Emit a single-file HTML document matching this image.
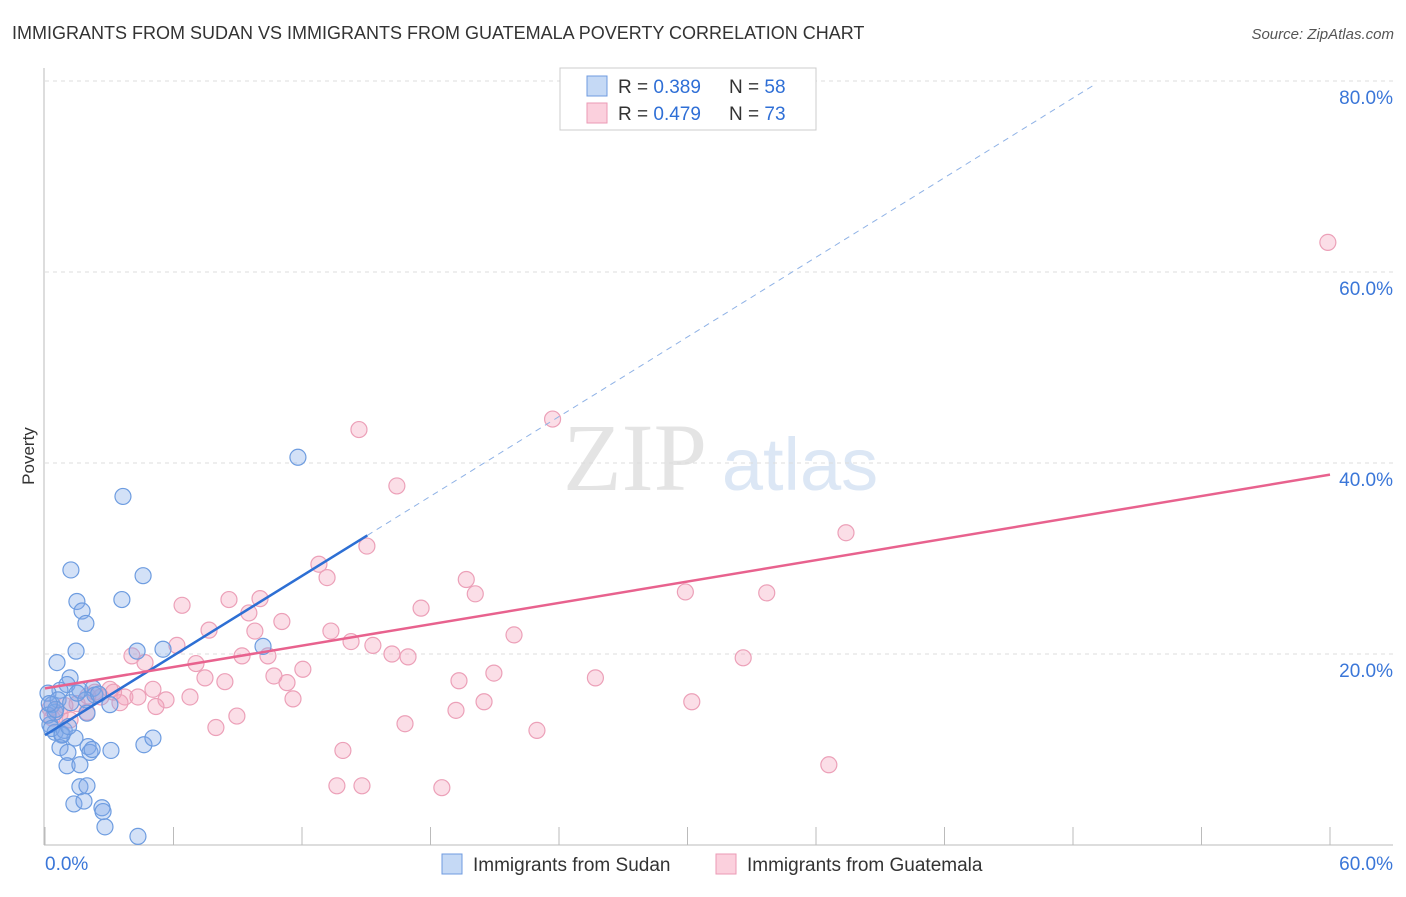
<!DOCTYPE html>
<html><head><meta charset="utf-8"><style>
body{margin:0;background:#fff;font-family:"Liberation Sans",sans-serif}
</style></head><body>
<svg id="c" width="1406" height="892" xmlns="http://www.w3.org/2000/svg">
<text x="12" y="39" font-size="18" fill="#333">IMMIGRANTS FROM SUDAN VS IMMIGRANTS FROM GUATEMALA POVERTY CORRELATION CHART</text>
<text x="1394" y="39" font-size="15" fill="#555" font-style="italic" text-anchor="end">Source: ZipAtlas.com</text>
<text x="34" y="456" font-size="17" fill="#333" text-anchor="middle" transform="rotate(-90 34 456)">Poverty</text>
<g><text x="635" y="490" font-size="96" fill="#e4e4e4" font-family="Liberation Serif,serif" text-anchor="middle">ZIP</text><text x="800" y="490" font-size="74" fill="#dce7f5" text-anchor="middle">atlas</text></g>
<g id="grid"></g><g id="axes"></g><g id="pts"></g><g id="lines"></g>
<g>
<rect x="560" y="68" width="256" height="62" fill="#fff" stroke="#ccc"/>
<rect x="587" y="76" width="20" height="20" fill="#c5d9f5" stroke="#6f9be0"/>
<rect x="587" y="103" width="20" height="20" fill="#fbd0dd" stroke="#eb9ab5"/>
<text x="618" y="93" font-size="19" fill="#333">R = <tspan fill="#2f6fd6">0.389</tspan></text>
<text x="729" y="93" font-size="19" fill="#333">N = <tspan fill="#2f6fd6">58</tspan></text>
<text x="618" y="120" font-size="19" fill="#333">R = <tspan fill="#2f6fd6">0.479</tspan></text>
<text x="729" y="120" font-size="19" fill="#333">N = <tspan fill="#2f6fd6">73</tspan></text>
</g>
<g>
<rect x="442" y="854" width="20" height="20" fill="#c5d9f5" stroke="#6f9be0"/>
<text x="473" y="871" font-size="19" fill="#333">Immigrants from Sudan</text>
<rect x="716" y="854" width="20" height="20" fill="#fbd0dd" stroke="#eb9ab5"/>
<text x="747" y="871" font-size="19" fill="#333">Immigrants from Guatemala</text>
</g>
</svg>
<script>
const yTicks=[20,40,60,80];
const yTickLabels=["20.0%","40.0%","60.0%","80.0%"];
const xLabels=["0.0%","60.0%"];
const sudanX=[1.21,4.58,3.64,11.81,1.49,1.73,1.91,3.59,1.45,0.56,4.30,5.51,10.18,1.17,1.03,0.70,0.14,1.63,2.24,2.33,1.91,0.33,0.47,3.03,1.96,0.23,0.47,0.79,1.40,0.70,1.07,2.01,2.10,3.08,4.62,5.04,1.03,1.63,1.63,1.96,1.35,1.82,2.66,2.71,2.80,4.34,0.14,0.61,0.3,0.9,1.2,2.5,0.5,1.5,0.2,0.8,2.2,1.1];
const sudanY=[28.8,28.2,36.5,40.6,25.5,24.5,23.2,25.7,20.3,19.1,20.3,20.5,20.8,17.5,16.8,16.2,15.9,16.2,16.4,15.7,15.2,14.7,13.9,14.7,13.8,12.6,11.8,11.5,11.2,10.2,9.7,10.3,9.7,9.9,10.5,11.2,8.3,8.4,6.1,6.2,4.3,4.6,3.9,3.5,1.9,0.9,13.6,15.2,12.2,12.0,14.9,15.8,14.2,15.9,14.8,11.6,10.0,12.4];
const guatX=[59.9,23.7,14.66,16.43,37.4,15.03,12.79,13.17,19.67,20.09,29.9,33.7,6.40,8.59,10.04,17.56,9.52,11.06,7.66,9.80,13.35,14.29,15.31,21.9,6.16,4.06,4.67,9.20,10.41,16.2,16.95,32.6,7.05,12.04,7.47,8.40,10.69,11.30,19.33,20.96,25.7,5.04,3.03,2.33,2.61,3.73,4.34,5.65,6.77,11.58,5.18,3.50,20.5,30.2,19.19,1.96,0.70,0.33,8.96,7.98,16.81,22.97,13.91,36.6,13.63,14.80,18.53,1.17,0.93,0.23,2.0,3.2,1.5];
const guatY=[63.1,44.6,43.5,37.6,32.7,31.3,29.4,28.0,27.8,26.3,26.5,26.4,25.1,25.7,25.8,24.8,24.3,23.4,22.5,22.4,22.4,21.3,20.9,22.0,20.9,19.8,19.1,19.8,19.8,20.0,19.7,19.6,19.0,18.4,17.5,17.1,17.7,17.0,17.2,18.0,17.5,16.3,16.3,16.0,15.5,15.5,15.5,15.2,15.5,15.3,14.5,14.9,15.0,15.0,14.1,13.9,13.7,13.3,13.5,12.3,12.7,12.0,9.9,8.4,6.2,6.2,6.0,13.1,14.6,14.3,15.6,16.0,14.8];
const sudanLine=[11.5,1.39,0,15.05,49.1];
const guatLine=[16.4,0.373,0,60];
const X=v=>45+v*1285/60, Y=v=>845-v*9.55;
const NS="http://www.w3.org/2000/svg";
function mk(t,a,p){const e=document.createElementNS(NS,t);for(const k in a)e.setAttribute(k,a[k]);p.appendChild(e);return e;}
const grid=document.getElementById('grid'),axes=document.getElementById('axes'),pts=document.getElementById('pts'),lines=document.getElementById('lines');
yTicks.forEach((t,i)=>{
const l=mk('line',{x1:45,x2:1393,y1:Y(t),y2:Y(t),stroke:'#ddd','stroke-dasharray':'4,4'},grid);


const tx=mk('text',{x:1393,y:Y(t)+23,'font-size':19,fill:'#3a76d8','text-anchor':'end'},axes);tx.textContent=yTickLabels[i];


});
const ax=mk('line',{x1:44,x2:44,y1:68,y2:845,stroke:'#bbb'},axes);


const bx=mk('line',{x1:44,x2:1393,y1:845,y2:845,stroke:'#bbb'},axes);


for(let i=0;i<=10;i++){const tk=mk('line',{x1:X(i*6),x2:X(i*6),y1:827,y2:845,stroke:'#bbb'},axes);

}
[[0,'start',45],[60,'end',1393]].forEach((d,i)=>{const t=mk('text',{x:d[2],y:870,'font-size':19,fill:'#3a76d8','text-anchor':d[1]},axes);t.textContent=xLabels[i];

});
guatX.forEach((x,i)=>{const c=mk('circle',{cx:X(x),cy:Y(guatY[i]),r:8,fill:'rgba(244,160,186,0.35)',stroke:'#eca0b8','stroke-width':1.2},pts);

});
sudanX.forEach((x,i)=>{const c=mk('circle',{cx:X(x),cy:Y(sudanY[i]),r:8,fill:'rgba(130,170,232,0.35)',stroke:'#6d9ce0','stroke-width':1.2},pts);

});
const f=(L,x)=>L[0]+L[1]*x;
const sd=mk('line',{x1:X(sudanLine[3]),y1:Y(f(sudanLine,sudanLine[3])),x2:X(sudanLine[4]),y2:Y(f(sudanLine,sudanLine[4])),stroke:'#8fb2e6','stroke-dasharray':'6,5','stroke-width':1},lines);


const ss=mk('line',{x1:X(sudanLine[2]),y1:Y(f(sudanLine,sudanLine[2])),x2:X(sudanLine[3]),y2:Y(f(sudanLine,sudanLine[3])),stroke:'#2d6fd4','stroke-width':2.5},lines);


const gl=mk('line',{x1:X(guatLine[2]),y1:Y(f(guatLine,guatLine[2])),x2:X(guatLine[3]),y2:Y(f(guatLine,guatLine[3])),stroke:'#e8628e','stroke-width':2.5},lines);


</script>
</body></html>
